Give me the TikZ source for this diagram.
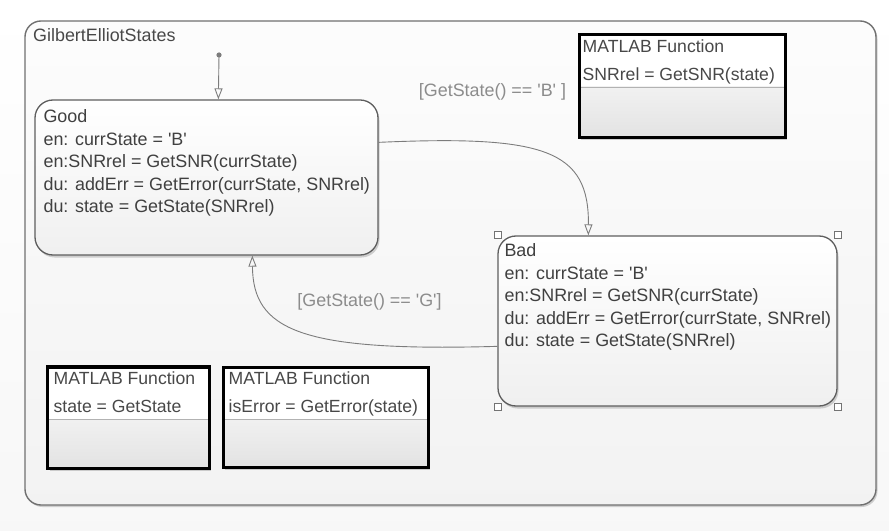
\documentclass[tikz,border=0pt]{standalone}
\usepackage{fontspec}
\setmainfont{Liberation Sans}
\usetikzlibrary{arrows.meta,shadows,calc}
\definecolor{stxt}{HTML}{404040}
\definecolor{ftxt}{HTML}{484848}
\definecolor{lbl}{HTML}{8C8C8C}
\definecolor{edgec}{HTML}{7C7C7C}
\definecolor{sbord}{HTML}{5E5E5E}
\definecolor{cbord}{HTML}{707070}
\newcommand{\sq}{\textquotesingle}
\tikzset{
  container/.style={draw=cbord, line width=1.4bp, rounded corners=16bp, top color=black!1, bottom color=black!5,
    drop shadow={shadow xshift=1.5bp, shadow yshift=-2bp, opacity=0.35}, inner sep=0},
  statebox/.style={draw=sbord, line width=1.3bp, rounded corners=18bp, top color=white, bottom color=black!6,
    drop shadow={shadow xshift=1.5bp, shadow yshift=-2.5bp, opacity=0.35}, inner sep=0},
  statetext/.style={font=\fontsize{17.9bp}{22.5bp}\selectfont, text=stxt, align=left, anchor=north west, inner sep=0},
  funcbox/.style={draw=black, line width=3bp, fill=white, inner sep=0,
    drop shadow={shadow xshift=2bp, shadow yshift=-2.5bp, opacity=0.35},
    path picture={
      \shade[top color=white, bottom color=black!11]
        ($(path picture bounding box.north west)+(0,52)$) rectangle (path picture bounding box.south east);
      \draw[black!30, line width=0.7bp]
        ($(path picture bounding box.north west)+(0,52)$) -- ($(path picture bounding box.north east)+(0,52)$);
    }},
  functext/.style={font=\fontsize{17.6bp}{27.5bp}\selectfont, text=ftxt, align=left, anchor=north west, inner sep=0},
  trans/.style={draw=edgec, line width=0.9bp, -{Triangle[open, length=11bp, width=8bp]}},
  translabel/.style={font=\fontsize{17.9bp}{22bp}\selectfont, text=lbl, inner sep=0},
  handle/.style={draw=black!55, fill=white, line width=0.7bp, minimum size=7bp, inner sep=0},
}
\begin{document}
\begin{tikzpicture}[x=1bp, y=-1bp]
\useasboundingbox (0,0) rectangle (889,531);
\shade[top color=white, bottom color=black!3] (0,0) rectangle (889,531);

% container
\node[container, minimum width=851bp, minimum height=484bp] (cont) at (450.5,263) {};
\node[statetext, text=ftxt] (title) at (33,28.5) {GilbertElliotStates};

% states
\node[statebox, minimum width=343bp, minimum height=155bp] (good) at (206.5,177.5) {};
\node[statetext] (goodtxt) at ($(good.north west)+(9,10)$)
  {Good\\en: currState = \sq B\sq\\en:SNRrel = GetSNR(currState)\\du: addErr = GetError(currState, SNRrel)\\du: state = GetState(SNRrel)};

\node[statebox, minimum width=339bp, minimum height=170bp] (bad) at (667.5,321) {};
\node[statetext] (badtxt) at ($(bad.north west)+(7,8)$)
  {Bad\\en: currState = \sq B\sq\\en:SNRrel = GetSNR(currState)\\du: addErr = GetError(currState, SNRrel)\\du: state = GetState(SNRrel)};

\node[handle] (h1) at (bad.north west) {};
\node[handle] (h2) at (bad.north east) {};
\node[handle] (h3) at (bad.south west) {};
\node[handle] (h4) at (bad.south east) {};

% MATLAB functions
\node[funcbox, minimum width=206bp, minimum height=103bp] (fa) at (682,86.5) {};
\node[functext] (fatxt) at ($(fa.north west)+(5,6.5)$) {MATLAB Function\\SNRrel = GetSNR(state)};

\node[funcbox, minimum width=161bp, minimum height=101bp] (fb) at (128.5,417.5) {};
\node[functext] (fbtxt) at ($(fb.north west)+(7,6.5)$) {MATLAB Function\\state = GetState};

\node[funcbox, minimum width=205bp, minimum height=100bp] (fc) at (325.5,417) {};
\node[functext] (fctxt) at ($(fc.north west)+(7,6.5)$) {MATLAB Function\\isError = GetError(state)};

% default transition
\coordinate (init) at (219,55);
\fill[edgec] (init) circle (2.6bp);
\draw[trans] (init) -- ($(good.north west)+(184,0)$);

% Good -> Bad
\draw[trans] ($(good.north east)+(0,43)$) .. controls (545,135) and (589,150) .. ($(bad.north west)+(91,0)$);
\node[translabel] (lblB) at (492.5,92) {[GetState() == \sq B\sq\ ]};

% Bad -> Good
\draw[trans] ($(bad.north west)+(0,111)$) .. controls (300,352) and (253,330) .. ($(good.south west)+(218,0)$);
\node[translabel] (lblG) at (369.5,302) {[GetState() == \sq G\sq]};
\end{tikzpicture}
\end{document}
